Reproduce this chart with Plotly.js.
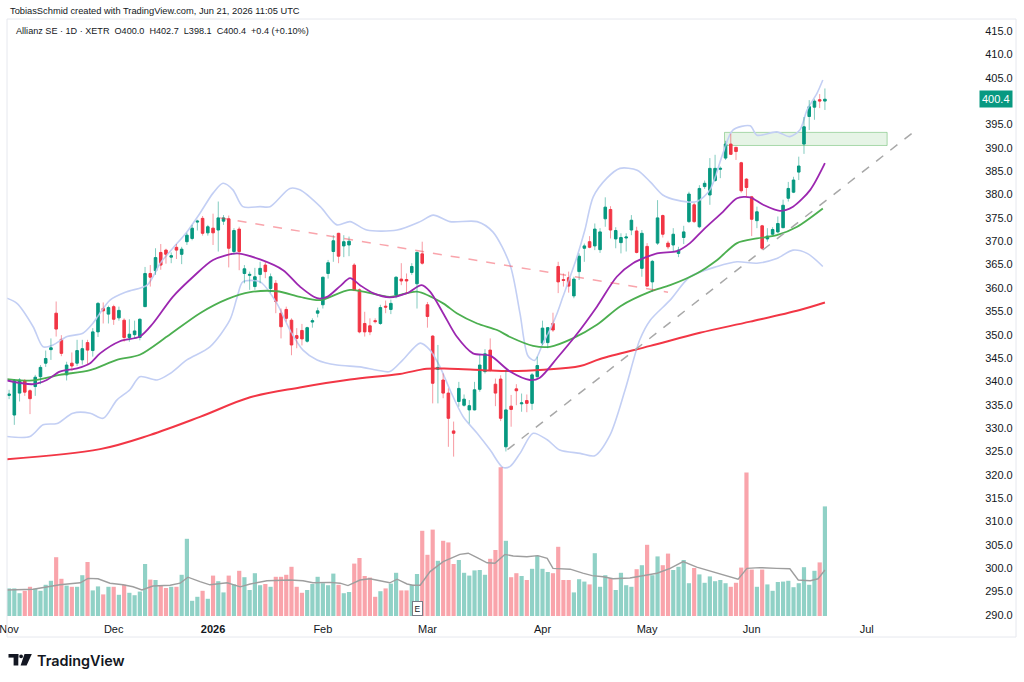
<!DOCTYPE html>
<html>
<head>
<meta charset="utf-8">
<script src="https://cdn.plot.ly/plotly-3.0.1.min.js"></script>
<style>
html,body{margin:0;padding:0;background:#fff;}
#chart{width:1024px;height:682px;}
</style>
</head>
<body>
<div id="chart"></div>
<script>
// ---- Daily candles, Allianz SE (XETR), bar index 0 = 3 Nov 2025 ----
const opens = [
337.0,332.8,337.5,340.1,338.0,338.9,341.0,343.9,346.8,354.6,
349.0,341.4,343.9,343.9,344.6,348.3,346.6,350.6,355.6,354.4,
356.0,353.6,353.1,349.4,350.0,349.4,356.0,363.1,363.7,367.6,
368.1,366.6,368.7,367.2,369.9,370.6,374.1,374.9,371.8,372.8,
372.4,374.3,374.8,367.8,372.6,363.1,362.7,360.3,362.9,364.9,
359.9,361.0,354.6,355.4,353.1,349.8,350.9,348.6,352.7,354.6,
356.4,363.1,367.8,371.7,369.0,369.2,364.9,359.6,352.4,351.9,
353.0,352.4,356.1,355.4,358.5,361.9,361.8,363.3,360.9,367.3,
356.4,349.7,342.6,340.3,337.5,329.4,335.7,334.9,333.9,333.9,
338.3,342.1,346.7,339.4,340.5,326.0,334.7,338.4,335.2,335.9,
335.3,341.0,348.2,348.3,352.4,364.6,361.8,362.2,358.3,363.5,
368.5,369.9,369.0,368.2,374.8,376.8,370.5,369.7,370.7,372.4,
372.2,364.2,368.9,361.3,369.6,375.5,369.6,369.2,367.4,370.8,
374.2,377.8,373.1,381.7,379.9,383.0,385.4,387.8,390.8,390.1,
386.8,383.3,379.5,374.4,373.3,370.5,371.5,372.0,372.9,379.2,
380.5,384.8,390.8,396.7,398.7,400.3,400.0];
const highs = [
338.2,340.5,340.7,340.5,338.3,341.4,343.5,346.6,349.2,357.1,
349.9,344.2,346.2,348.9,348.9,348.9,351.4,357.0,356.9,356.2,
356.4,356.0,353.5,353.3,353.0,353.5,364.5,364.9,368.5,369.4,
368.4,367.6,369.4,368.8,371.8,373.5,374.6,375.4,373.5,375.9,
378.5,375.6,375.5,372.8,373.1,364.9,363.5,364.3,365.6,365.6,
363.1,361.7,355.6,356.0,353.5,351.4,352.3,351.7,353.5,355.8,
362.4,366.0,371.3,371.8,371.3,371.0,365.3,359.9,354.9,353.5,
353.5,356.4,357.3,357.5,362.5,365.3,363.1,365.3,367.8,369.9,
357.0,349.9,347.8,341.7,338.5,331.4,339.9,337.2,336.0,339.9,
345.7,346.9,349.2,340.6,341.3,342.4,337.1,339.4,337.4,337.2,
341.8,345.3,353.0,351.6,354.7,365.6,363.1,363.5,362.4,367.4,
369.5,371.1,373.8,372.8,379.4,377.5,373.0,371.7,371.7,375.6,
373.1,372.4,369.6,366.0,378.8,375.7,370.1,372.8,368.8,373.3,
380.6,378.2,382.0,383.0,387.8,388.5,386.0,391.5,393.0,390.2,
387.0,383.5,379.7,377.4,373.5,372.8,373.0,375.3,378.9,382.7,
383.8,388.1,396.6,400.2,400.4,401.5,402.7];
const lows = [
336.2,330.7,335.7,336.9,333.0,336.9,339.4,343.1,344.6,349.6,
345.4,340.2,342.3,343.3,343.6,343.7,345.3,349.5,352.4,352.4,
352.1,353.0,348.5,348.5,349.2,348.8,356.0,360.3,362.8,363.9,
365.2,365.3,366.2,365.1,369.2,370.2,372.3,371.2,371.2,369.2,
367.8,373.5,364.4,367.2,363.8,361.0,359.6,359.6,361.0,362.1,
359.0,354.6,349.2,352.8,345.6,347.1,347.7,348.3,351.5,353.7,
355.6,362.0,365.6,365.3,366.6,366.8,359.3,350.3,349.6,349.9,
352.4,352.1,354.6,354.4,357.8,360.6,358.9,362.8,355.6,365.0,
351.5,335.3,335.3,336.4,326.0,323.9,334.6,334.6,331.0,333.8,
337.8,341.7,342.1,334.7,331.5,325.0,330.3,334.9,333.5,333.4,
333.9,340.8,347.8,347.1,350.6,358.9,360.3,359.0,357.8,361.7,
365.6,368.5,368.1,367.5,373.1,370.6,368.5,367.4,367.8,371.3,
367.4,362.4,360.3,359.2,369.2,370.8,368.3,367.8,366.6,369.4,
373.9,373.9,372.8,381.2,377.8,382.7,383.5,387.4,388.5,387.4,
380.4,379.5,371.1,372.8,368.1,369.9,371.3,371.7,372.8,378.5,
380.3,383.1,388.7,393.8,396.0,398.5,398.1];
const closes = [
337.3,340.2,340.3,337.7,336.3,340.9,343.0,344.9,347.2,351.2,
346.0,343.5,343.3,346.6,347.0,346.7,350.6,356.7,355.1,355.8,
353.3,355.2,349.4,350.1,350.8,353.3,363.1,362.3,366.5,364.9,
367.2,366.9,368.1,368.3,371.3,372.8,374.3,371.7,373.1,371.8,
375.0,375.0,368.5,372.3,367.8,364.1,362.9,362.4,364.2,363.5,
362.4,357.1,351.7,353.5,347.8,349.2,349.1,351.5,353.0,355.1,
362.3,365.4,370.1,366.8,369.9,370.0,359.6,350.6,350.6,350.6,
352.8,355.8,355.9,356.7,362.3,361.5,361.5,364.6,367.6,365.3,
353.9,339.6,343.0,337.5,332.1,328.9,338.5,336.2,334.8,338.2,
343.5,345.9,342.4,337.5,332.1,333.9,334.0,338.0,335.4,335.3,
341.4,343.4,351.4,351.5,351.0,361.3,361.6,360.4,361.9,366.8,
369.0,368.7,372.6,372.0,377.3,372.4,372.3,370.8,370.9,374.5,
367.6,371.7,360.4,365.7,375.0,371.5,368.8,371.5,368.1,372.0,
380.1,374.2,381.3,382.4,385.6,385.6,385.6,390.8,388.6,389.2,
380.8,381.5,374.7,376.3,368.5,371.1,372.5,373.8,377.7,381.3,
383.1,386.1,394.5,398.8,400.0,400.0,400.4];
// volume, thousand shares
const volumes = [
690,690,570,630,730,680,630,780,880,1470,
930,760,730,730,1020,1350,640,740,540,730,
730,530,780,580,520,610,1300,910,900,770,
700,730,730,1030,1930,380,480,630,430,1010,
870,590,1010,790,1130,970,650,1070,770,800,
730,980,980,1030,1230,730,580,650,800,980,
820,770,1060,780,570,600,1310,1450,1000,960,
480,620,690,810,1080,640,640,780,1050,2130,
1530,2160,1380,1880,1840,1300,1400,1080,1010,1140,
1150,1030,1430,1650,3720,1880,970,1070,1000,900,
1180,1510,1180,1100,1070,1730,900,900,590,920,
860,790,1570,730,1020,950,650,1080,770,730,
1170,1270,1780,1020,1490,1270,1560,1150,1230,1400,
820,1200,1040,830,990,870,900,820,730,830,
1210,3590,1160,730,1160,790,630,850,860,880,
720,820,1220,780,1130,1340,2740];

// ---- Indicator lines (bar index, value) ----
const sma200Idx = [-1.0,17.4,26.9,36.5,46.1,55.6,65.2,74.7,79.9,84.3,90.6,95.8,102.3,109.2,113.0,122.6,132.1,141.7,151.2,156.0];
const sma200Val = [323.3,325.5,328.5,332.4,336.6,338.7,340.4,341.6,342.7,342.7,342.4,342.2,342.5,343.3,344.8,347.6,350.4,352.8,355.3,356.9];

const maGreenIdx = [-0.4,4.6,9.7,15.5,20.6,25.0,30.2,36.5,41.7,46.1,51.2,55.6,59.5,65.2,72.8,78.0,83.0,85.6,89.5,93.3,95.8,100.2,103.4,107.8,112.4,116.9,122.6,126.4,131.5,135.4,139.2,143.0,146.8,150.7,155.6];
const maGreenVal = [340.5,340.2,341.4,342.4,344.6,345.7,349.6,354.6,357.6,359.1,359.3,358.1,357.4,359.6,358.1,359.2,356.7,354.6,352.4,351.0,349.5,347.6,347.4,349.2,352.1,356.1,359.2,360.6,363.1,366.0,369.6,370.6,371.3,373.1,377.0];

const maPurpleIdx = [-0.4,4.6,7.2,9.7,13.0,15.5,17.4,21.2,25.0,27.5,31.3,35.2,39.0,43.6,48.0,52.4,55.6,58.9,60.8,63.3,65.2,67.1,69.6,72.8,76.1,78.9,80.5,83.0,85.6,88.7,92.0,95.8,99.6,101.5,104.8,108.2,112.4,116.2,119.3,123.9,127.7,130.2,132.7,136.5,139.2,141.7,144.2,147.4,149.9,153.2,156.0];
const maPurpleVal = [340.2,339.4,340.3,342.1,342.8,343.9,346.0,348.6,349.6,352.4,358.1,362.4,366.0,367.4,366.1,363.8,360.3,357.8,358.1,360.4,362.1,360.6,358.9,358.0,358.9,360.6,359.2,354.6,349.6,346.0,345.5,342.1,340.3,340.8,345.0,349.6,356.0,362.4,365.3,367.4,367.9,369.6,372.4,376.3,379.2,379.4,377.8,376.5,377.4,381.0,386.7];

const bbUpperIdx = [-0.4,1.5,4.6,6.5,8.4,11.1,14.1,16.0,19.3,22.5,26.4,28.9,31.3,34.0,36.5,39.0,40.9,42.8,44.7,48.0,49.9,53.7,55.6,59.5,62.7,65.2,68.4,74.2,78.6,81.1,84.3,89.5,92.5,95.8,97.7,99.2,100.5,102.1,103.4,104.8,105.9,108.6,110.1,111.7,114.3,116.8,120.1,122.6,125.0,127.7,131.5,134.0,136.5,138.4,141.7,143.0,146.8,149.3,151.2,152.6,154.5,155.6];
const bbUpperVal = [357.8,356.7,351.7,347.4,347.8,349.6,350.3,352.4,357.4,359.2,360.6,365.3,368.5,372.0,376.0,380.3,382.4,381.0,377.4,377.4,377.4,381.3,381.0,377.4,373.5,374.2,372.4,372.4,374.2,375.6,374.2,374.2,372.0,364.9,354.5,345.5,344.5,348.2,351.0,354.6,358.1,366.7,372.4,379.5,383.5,385.6,385.2,382.7,379.9,378.8,378.5,381.0,388.8,393.8,394.7,392.7,393.4,392.4,393.8,398.1,401.7,404.5];

const bbLowerIdx = [-0.4,4.0,6.5,9.2,12.2,15.5,18.0,20.6,23.1,25.0,28.3,30.8,34.0,38.4,42.2,43.6,44.7,48.0,51.2,53.7,56.2,58.9,62.7,67.1,70.4,72.8,75.3,78.6,80.5,82.4,84.3,86.8,89.5,92.0,94.4,95.8,97.7,100.2,102.9,105.3,109.2,112.0,114.9,117.8,120.6,122.6,126.4,130.2,135.4,139.2,143.0,146.8,149.9,152.6,155.6];
const bbLowerVal = [328.2,328.2,330.7,331.0,333.2,333.2,332.1,336.0,338.2,341.0,340.3,341.7,344.6,347.4,353.1,358.0,361.3,361.3,356.7,351.0,346.7,344.6,343.5,343.1,342.4,342.1,344.6,348.2,346.7,343.1,338.2,332.5,328.9,325.3,321.6,321.8,324.6,328.9,327.5,325.3,324.6,324.1,328.5,338.2,348.9,353.1,357.4,362.4,364.6,365.6,365.3,366.3,368.1,367.4,364.6];

const volMaIdx = [-0.4,4.6,9.7,13.6,15.1,17.0,19.3,21.8,23.7,25.4,27.5,30.8,32.7,34.2,36.5,38.4,41.7,44.2,46.1,49.3,53.7,56.2,58.1,61.4,63.3,64.8,67.1,69.0,70.9,72.8,74.2,76.1,77.2,78.6,80.5,83.0,86.2,87.8,89.5,91.4,92.9,94.8,96.4,99.0,101.1,102.9,104.0,107.3,109.7,111.5,113.6,115.5,118.7,121.2,123.9,126.4,128.9,131.5,134.0,136.5,139.4,141.1,143.6,146.8,149.3,150.9,153.2,154.7,156.0];
const volMaVal = [650,670,780,830,940,930,820,780,730,650,750,770,820,970,860,780,830,730,800,880,900,880,830,840,820,760,900,930,880,830,920,800,770,770,1110,1360,1540,1570,1460,1330,1320,1540,1500,1480,1510,1440,1190,1170,1070,1010,980,930,950,1000,1070,1190,1360,1220,1130,1040,920,1190,1210,1190,1180,900,880,930,1150];

// ---- Axis labels ----
const monthTickIdx = [0,20,39,60,80,102,122,142,164];
const monthTickText = ['Nov','Dec','<b>2026</b>','Feb','Mar','Apr','May','Jun','Jul'];
// price scale labels (400.0 is covered by the last-price badge in the original)
const priceTicks = [290,295,300,305,310,315,320,325,330,335,340,345,350,355,360,365,370,375,380,385,390,395,405,410,415];

// ---- Drawings ----
const resistDash = {i0:40.3, p0:375.0, i1:126.0, p1:359.1};
const supportDash = {i0:95.3, p0:325.4, i1:173.9, p1:394.2};
const zoneBox = {i0:136.8, i1:167.9, pLow:390.5, pHigh:393.3};
const earningsIdx = 78;

// ---- build traces ----
const idx = opens.map((_, i) => i);
const isUp = idx.map(i => closes[i] >= opens[i]);
const bodyHigh = idx.map(i => Math.max(opens[i], closes[i]));
const bodyLow = idx.map(i => Math.min(opens[i], closes[i]));

function wicks(up) {
  const x = [], y = [];
  idx.forEach(i => {
    if (isUp[i] === up) { x.push(i, i, null); y.push(lows[i], highs[i], null); }
  });
  return {x, y};
}
const wUp = wicks(true), wDn = wicks(false);

const UP = '#089981', DN = '#f23645';
const traces = [
  {type:'bar', x:idx, y:volumes, yaxis:'y2', width:0.8,
   marker:{color: idx.map(i => isUp[i] ? 'rgba(8,153,129,0.45)' : 'rgba(242,54,69,0.45)'), line:{width:0}},
   hoverinfo:'skip'},
  {type:'scatter', mode:'lines', x:volMaIdx, y:volMaVal, yaxis:'y2',
   line:{color:'#9e9e9e', width:1.4}, hoverinfo:'skip'},
  {type:'scatter', mode:'lines', x:bbUpperIdx, y:bbUpperVal, line:{color:'#c3cff4', width:1.6, shape:'spline', smoothing:0.8}, hoverinfo:'skip'},
  {type:'scatter', mode:'lines', x:bbLowerIdx, y:bbLowerVal, line:{color:'#c3cff4', width:1.6, shape:'spline', smoothing:0.8}, hoverinfo:'skip'},
  {type:'scatter', mode:'lines', x:sma200Idx, y:sma200Val, line:{color:'#f23645', width:2, shape:'spline'}, hoverinfo:'skip'},
  {type:'scatter', mode:'lines', x:maGreenIdx, y:maGreenVal, line:{color:'#4caf50', width:1.8, shape:'spline', smoothing:0.8}, hoverinfo:'skip'},
  {type:'scatter', mode:'lines', x:maPurpleIdx, y:maPurpleVal, line:{color:'#9c27b0', width:1.8, shape:'spline', smoothing:0.8}, hoverinfo:'skip'},
  {type:'scatter', mode:'lines', x:wUp.x, y:wUp.y, line:{color:'rgba(8,153,129,0.5)', width:1}, connectgaps:false, hoverinfo:'skip'},
  {type:'scatter', mode:'lines', x:wDn.x, y:wDn.y, line:{color:'rgba(242,54,69,0.5)', width:1}, connectgaps:false, hoverinfo:'skip'},
  {type:'candlestick', x:idx, open:opens, high:bodyHigh, low:bodyLow, close:closes,
   increasing:{line:{color:UP, width:1}, fillcolor:UP},
   decreasing:{line:{color:DN, width:1}, fillcolor:DN},
   whiskerwidth:0, hoverinfo:'skip'}
];

// pixel helpers for paper-anchored decorations
const PL = 7, PW = 968, PB = 617, PH = 598;
const X = px => (px - PL) / PW;
const Y = py => (PB - py) / PH;

const FONT = 'Liberation Sans, Arial, sans-serif';

const shapes = [
  {type:'rect', xref:'x', yref:'y', x0:zoneBox.i0, x1:zoneBox.i1, y0:zoneBox.pLow, y1:zoneBox.pHigh,
   fillcolor:'rgba(76,175,80,0.14)', line:{color:'rgba(76,175,80,0.45)', width:1}, layer:'below'},
  {type:'line', xref:'x', yref:'y', x0:resistDash.i0, y0:resistDash.p0, x1:resistDash.i1, y1:resistDash.p1,
   line:{color:'rgba(242,54,69,0.45)', width:1.5, dash:'dash'}},
  {type:'line', xref:'x', yref:'y', x0:supportDash.i0, y0:supportDash.p0, x1:supportDash.i1, y1:supportDash.p1,
   line:{color:'#a8a8a8', width:1.5, dash:'dash'}},
  // chart frame
  {type:'rect', xref:'paper', yref:'paper', x0:X(7), x1:X(1016), y0:Y(637), y1:Y(19),
   line:{color:'#e6e8ee', width:1}, fillcolor:'rgba(0,0,0,0)'},
  // TradingView logo mark
  {type:'rect', xref:'paper', yref:'paper', x0:X(8.5), x1:X(18.3), y0:Y(657.6), y1:Y(654), fillcolor:'#131722', line:{width:0}},
  {type:'rect', xref:'paper', yref:'paper', x0:X(13.6), x1:X(18.3), y0:Y(665.5), y1:Y(654), fillcolor:'#131722', line:{width:0}},
  {type:'circle', xref:'paper', yref:'paper', x0:X(19.2), x1:X(23.0), y0:Y(658.2), y1:Y(654.4), fillcolor:'#131722', line:{width:0}},
  {type:'path', xref:'paper', yref:'paper',
   path:`M ${X(24.5)} ${Y(654)} L ${X(31.8)} ${Y(654)} L ${X(26.6)} ${Y(665.5)} L ${X(20.6)} ${Y(665.5)} Z`,
   fillcolor:'#131722', line:{width:0}}
];

const annotations = [
  {xref:'paper', yref:'paper', x:X(8), y:Y(11), xanchor:'left', yanchor:'middle', showarrow:false,
   text:'TobiasSchmid created with TradingView.com, Jun 21, 2026 11:05 UTC', font:{family:FONT, size:9.3, color:'#131722'}},
  {xref:'paper', yref:'paper', x:X(14), y:Y(31), xanchor:'left', yanchor:'middle', showarrow:false,
   text:'Allianz SE · 1D · XETR  O400.0  H402.7  L398.1  C400.4  +0.4 (+0.10%)', font:{family:FONT, size:9.1, color:'#131722'}},
  {xref:'paper', yref:'y', x:X(996), y:closes[closes.length-1], xanchor:'center', yanchor:'middle', showarrow:false,
   text:closes[closes.length-1].toFixed(1), font:{family:FONT, size:11, color:'#ffffff'}, bgcolor:UP, borderpad:2},
  {xref:'x', yref:'paper', x:earningsIdx, y:Y(608), xanchor:'center', yanchor:'middle', showarrow:false,
   text:'E', font:{family:FONT, size:8.5, color:'#131722'}, bgcolor:'#ffffff', bordercolor:'#787b86', borderwidth:1, borderpad:1.5},
  {xref:'paper', yref:'paper', x:X(35), y:Y(660), xanchor:'left', yanchor:'middle', showarrow:false,
   text:'TradingView', font:{family:'Inter, Roboto, sans-serif', size:14.4, color:'#131722', weight:600}}
];

const layout = {
  width:1024, height:682,
  margin:{l:PL, r:1024-PL-PW, t:19, b:682-PB},
  paper_bgcolor:'#ffffff', plot_bgcolor:'#ffffff',
  showlegend:false, boxgap:0.3,
  xaxis:{range:[-0.4, 184.7], rangeslider:{visible:false}, tickmode:'array', tickvals:monthTickIdx, ticktext:monthTickText,
         showgrid:false, zeroline:false, showline:false, ticks:'outside', ticklen:2, tickcolor:'rgba(0,0,0,0)',
         tickfont:{family:FONT, size:11, color:'#131722'}, ticklabeloverflow:'allow', fixedrange:true},
  yaxis:{side:'right', range:[289.57, 417.57], tickmode:'array', tickvals:priceTicks,
         ticktext:priceTicks.map(v => v.toFixed(1)), showgrid:false, zeroline:false,
         showline:false, ticks:'outside', ticklen:7, tickcolor:'rgba(0,0,0,0)',
         tickfont:{family:FONT, size:11, color:'#131722'}, fixedrange:true},
  yaxis2:{overlaying:'y', range:[-25, 14925], visible:false, fixedrange:true},
  shapes, annotations
};

Plotly.newPlot('chart', traces, layout, {displayModeBar:false, staticPlot:true});
</script>
</body>
</html>
